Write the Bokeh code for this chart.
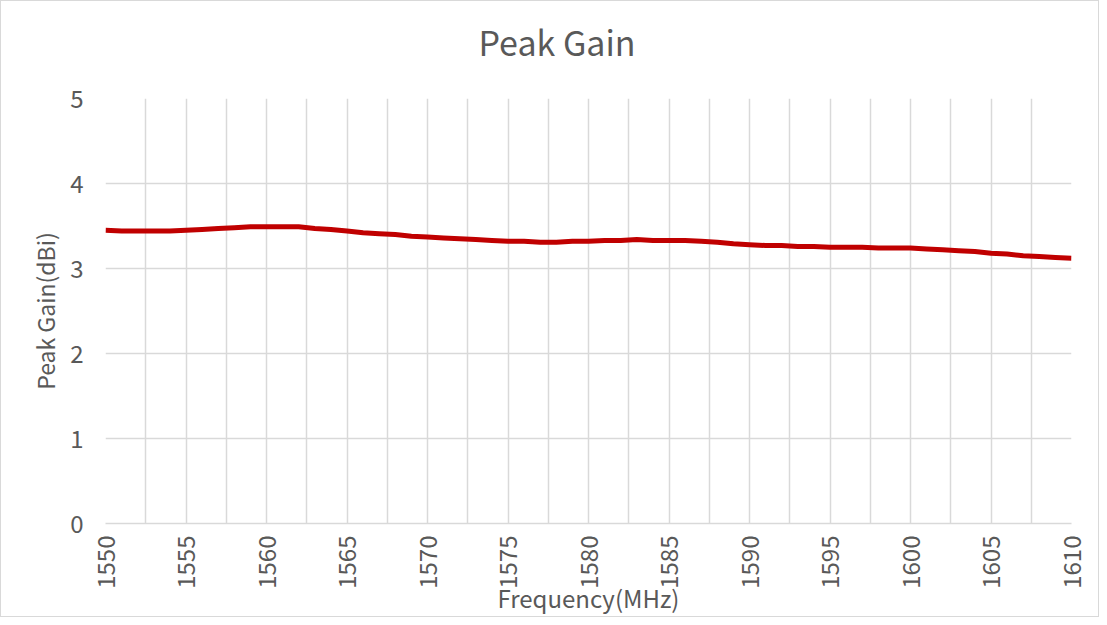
import numpy as np
from bokeh.plotting import figure
from bokeh.models import Range1d, SingleIntervalTicker, FixedTicker, Title
from bokeh.embed import file_html
from bokeh.resources import INLINE

freq = list(range(1550, 1611))
gain = [3.45, 3.44, 3.44, 3.44, 3.44, 3.45, 3.46, 3.47, 3.48, 3.49,
        3.49, 3.49, 3.49, 3.47, 3.46, 3.44, 3.42, 3.41, 3.40, 3.38,
        3.37, 3.36, 3.35, 3.34, 3.33, 3.32, 3.32, 3.31, 3.31, 3.32,
        3.32, 3.33, 3.33, 3.34, 3.33, 3.33, 3.33, 3.32, 3.31, 3.29,
        3.28, 3.27, 3.27, 3.26, 3.26, 3.25, 3.25, 3.25, 3.24, 3.24,
        3.24, 3.23, 3.22, 3.21, 3.20, 3.18, 3.17, 3.15, 3.14, 3.13,
        3.12]
x_ticks = list(range(1550, 1611, 5))
y_ticks = [0, 1, 2, 3, 4, 5]

FONT = "Noto Sans CJK SC"
GRAY = "#595959"
GRID = "#d9d9d9"

p = figure(width=1099, height=617, output_backend="svg", toolbar_location=None,
           x_range=Range1d(1550, 1610), y_range=Range1d(0, 5),
           min_border_left=104, min_border_right=29, min_border_top=97, min_border_bottom=95)
p.title = None
spacer = Title(text=" ", text_font=FONT, text_font_size="11px")
p.add_layout(spacer, "above")
t = Title(text="Peak Gain", align="left", offset=373, text_font=FONT,
          text_font_size="34px", text_color=GRAY, text_font_style="normal")
p.add_layout(t, "above")

p.line(freq, gain, line_color="#c00000", line_width=5)

p.xaxis.ticker = FixedTicker(ticks=x_ticks)
p.yaxis.ticker = FixedTicker(ticks=y_ticks)
p.xgrid.ticker = SingleIntervalTicker(interval=2.5)
p.ygrid.ticker = FixedTicker(ticks=y_ticks)
p.xgrid.grid_line_color = GRID
p.ygrid.grid_line_color = GRID
p.xgrid.grid_line_width = 1.5
p.ygrid.grid_line_width = 1.5

p.xaxis.major_label_orientation = np.pi / 2
for ax in (p.xaxis, p.yaxis):
    ax.major_tick_line_color = None
    ax.minor_tick_line_color = None
    ax.major_label_text_font = FONT
    ax.major_label_text_font_size = "24px"
    ax.major_label_text_color = GRAY
    ax.axis_label_text_font = FONT
    ax.axis_label_text_color = GRAY
    ax.axis_label_text_font_style = "normal"
p.xaxis.axis_label_text_font_size = "24px"
p.yaxis.axis_label_text_font_size = "23px"
p.xaxis.axis_line_color = GRID
p.xaxis.axis_line_width = 1.5
p.yaxis.axis_line_color = None
p.xaxis.axis_label = "Frequency(MHz)"
p.yaxis.axis_label = "Peak Gain(dBi)"
p.xaxis.axis_label_standoff = -12
p.yaxis.axis_label_standoff = 5
p.xaxis.major_label_standoff = 6
p.yaxis.major_label_standoff = 16
p.outline_line_color = None
p.styles = {"border": "1px solid #d9d9d9"}

open("out.html", "w").write(file_html(p, INLINE))
